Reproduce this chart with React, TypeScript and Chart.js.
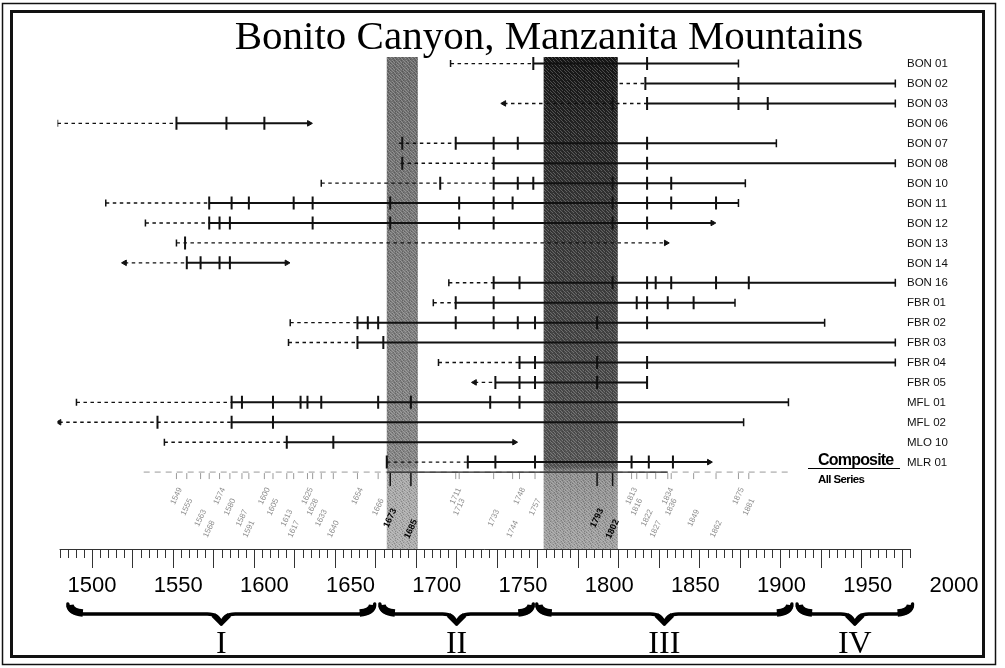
import React, { useEffect, useRef } from 'react';
import { Chart, registerables } from 'chart.js';

Chart.register(...registerables);

const TITLE = 'Bonito Canyon, Manzanita Mountains';

const SERIES = ['BON 01', 'BON 02', 'BON 03', 'BON 06', 'BON 07', 'BON 08', 'BON 10', 'BON 11', 'BON 12', 'BON 13', 'BON 14', 'BON 16', 'FBR 01', 'FBR 02', 'FBR 03', 'FBR 04', 'FBR 05', 'MFL 01', 'MFL 02', 'MLO 10', 'MLR 01'];

// first year of each series (start of the dashed, non-recording part)
const INNER_YEAR = [1708, 1806, 1739, 1480, 1678, 1679, 1633, 1508, 1531, 1549, 1519, 1707, 1698, 1615, 1614, 1701, 1722, 1491, 1481, 1542, 1671];
// 'pith' = short tick, 'arrow' = inner ring arrow, 'none' = no mark
const INNER_KIND = ['pith', 'none', 'arrow', 'pith', 'none', 'none', 'pith', 'pith', 'pith', 'pith', 'arrow', 'pith', 'pith', 'pith', 'pith', 'pith', 'arrow', 'pith', 'arrow', 'pith', 'pith'];
// first recorder year (solid line begins)
const RECORD_START = [1756, 1821, 1822, 1549, 1711, 1733, 1733, 1568, 1568, 1833, 1555, 1733, 1711, 1654, 1654, 1748, 1734, 1581, 1581, 1613, 1718];
// last year of each series
const OUTER_YEAR = [1875, 1966, 1966, 1626, 1897, 1966, 1879, 1875, 1860, 1833, 1613, 1966, 1873, 1925, 1966, 1966, 1822, 1904, 1878, 1745, 1858];
const OUTER_KIND = ['bark', 'bark', 'bark', 'arrow', 'bark', 'bark', 'bark', 'bark', 'arrow', 'arrow', 'arrow', 'bark', 'bark', 'bark', 'bark', 'bark', 'bark', 'bark', 'bark', 'arrow', 'arrow'];

// fire-scar years per series
const SCARS_BON01 = [1756, 1822];
const SCARS_BON02 = [1821, 1875];
const SCARS_BON03 = [1802, 1822, 1875, 1892];
const SCARS_BON06 = [1549, 1578, 1600];
const SCARS_BON07 = [1680, 1711, 1733, 1747, 1822];
const SCARS_BON08 = [1680, 1733, 1822];
const SCARS_BON10 = [1702, 1733, 1747, 1756, 1802, 1822, 1836];
const SCARS_BON11 = [1568, 1581, 1591, 1617, 1628, 1673, 1713, 1733, 1744, 1802, 1822, 1836, 1862];
const SCARS_BON12 = [1568, 1574, 1580, 1628, 1673, 1713, 1733, 1802, 1822];
const SCARS_BON13 = [1554];
const SCARS_BON14 = [1555, 1563, 1574, 1580];
const SCARS_BON16 = [1733, 1748, 1802, 1822, 1827, 1836, 1862, 1881];
const SCARS_FBR01 = [1711, 1733, 1816, 1822, 1834, 1849];
const SCARS_FBR02 = [1654, 1660, 1666, 1711, 1733, 1747, 1757, 1793, 1822];
const SCARS_FBR03 = [1654, 1669];
const SCARS_FBR04 = [1748, 1757, 1793, 1822];
const SCARS_FBR05 = [1734, 1748, 1757, 1793, 1822];
const SCARS_MFL01 = [1581, 1587, 1605, 1621, 1625, 1633, 1666, 1685, 1731, 1748];
const SCARS_MFL02 = [1538, 1581, 1605];
const SCARS_MLO10 = [1613, 1640];
const SCARS_MLR01 = [1671, 1718, 1734, 1757, 1813, 1823, 1837];
const SCARS = [SCARS_BON01, SCARS_BON02, SCARS_BON03, SCARS_BON06, SCARS_BON07, SCARS_BON08, SCARS_BON10, SCARS_BON11, SCARS_BON12, SCARS_BON13, SCARS_BON14, SCARS_BON16, SCARS_FBR01, SCARS_FBR02, SCARS_FBR03, SCARS_FBR04, SCARS_FBR05, SCARS_MFL01, SCARS_MFL02, SCARS_MLO10, SCARS_MLR01];

// composite (all series) fire years
const COMPOSITE_YEARS = [1549, 1555, 1563, 1568, 1574, 1580, 1587, 1591, 1600, 1605, 1613, 1617, 1625, 1628, 1633, 1640, 1654, 1666, 1673, 1685, 1711, 1713, 1733, 1744, 1748, 1757, 1793, 1802, 1813, 1816, 1822, 1827, 1834, 1836, 1849, 1862, 1875, 1881];
const COMPOSITE_BOLD = [1673, 1685, 1793, 1802];

const X_TICKS = [1500, 1550, 1600, 1650, 1700, 1750, 1800, 1850, 1900, 1950, 2000];

// shaded periods
const BAND_START = [1671, 1762];
const BAND_END = [1689, 1805];

// bracketed periods
const PERIOD_LABELS = ['I', 'II', 'III', 'IV'];
const PERIOD_START = [1486, 1667, 1758, 1909];
const PERIOD_END = [1664, 1756, 1906, 1976];

// ruler (scanned scale) in its own units
const RULER_FROM = 1480;
const RULER_TO = 2005;
const RULER_MINOR = 5;
const RULER_MAJOR = 25;

const COMPOSITE_ROW = 20.5;
const INK = '#111111';

function buildSegments(solid: boolean) {
  const pts: any[] = [];
  SERIES.forEach((_, i) => {
    const a = solid ? RECORD_START[i] : INNER_YEAR[i];
    const b = solid ? OUTER_YEAR[i] : RECORD_START[i];
    if (b > a) {
      pts.push({ x: a, y: i }, { x: b, y: i }, { x: b, y: null });
    }
  });
  return pts;
}

function drawBrace(ctx: CanvasRenderingContext2D, xa: number, xb: number, yTop: number) {
  const xm = (xa + xb) / 2;
  const yMid = yTop + 10;
  const yTip = yTop + 20;
  ctx.save();
  ctx.strokeStyle = '#000';
  ctx.fillStyle = '#000';
  ctx.lineCap = 'round';
  ctx.lineJoin = 'round';
  ctx.lineWidth = 3.4;
  ctx.beginPath();
  ctx.moveTo(xa, yTop);
  ctx.quadraticCurveTo(xa + 1, yMid, xa + 16, yMid);
  ctx.lineTo(xm - 14, yMid);
  ctx.quadraticCurveTo(xm - 2, yMid, xm, yTip);
  ctx.quadraticCurveTo(xm + 2, yMid, xm + 14, yMid);
  ctx.lineTo(xb - 16, yMid);
  ctx.quadraticCurveTo(xb - 1, yMid, xb, yTop);
  ctx.stroke();
  ctx.lineWidth = 7.5;
  ctx.lineCap = 'butt';
  ctx.beginPath();
  ctx.moveTo(xa + 2, yTop + 1);
  ctx.quadraticCurveTo(xa + 3, yMid - 2, xa + 15, yMid - 1);
  ctx.stroke();
  ctx.beginPath();
  ctx.moveTo(xb - 2, yTop + 1);
  ctx.quadraticCurveTo(xb - 3, yMid - 2, xb - 15, yMid - 1);
  ctx.stroke();
  ctx.lineWidth = 5;
  ctx.beginPath();
  ctx.moveTo(xm - 8, yMid + 1);
  ctx.lineTo(xm, yTip - 1);
  ctx.lineTo(xm + 8, yMid + 1);
  ctx.stroke();
  ctx.restore();
}

function speckle(ctx: CanvasRenderingContext2D) {
  const c = document.createElement('canvas');
  c.width = 7;
  c.height = 7;
  const g = c.getContext('2d')!;
  for (let i = 0; i < 7; i++) {
    for (let j = 0; j < 7; j++) {
      if ((i * 3 + j * 5) % 4 === 0) {
        g.fillStyle = 'rgba(255,255,255,0.22)';
        g.fillRect(i, j, 1, 1);
      } else if ((i + j * 2) % 5 === 0) {
        g.fillStyle = 'rgba(0,0,0,0.2)';
        g.fillRect(i, j, 1, 1);
      }
    }
  }
  return ctx.createPattern(c, 'repeat');
}

const decor = {
  id: 'decor',
  beforeDraw(chart: any) {
    const { ctx, width, height } = chart;
    ctx.save();
    ctx.fillStyle = '#fff';
    ctx.fillRect(0, 0, width, height);
    ctx.strokeStyle = INK;
    ctx.lineWidth = 1.5;
    ctx.strokeRect(2.5, 3.5, 993, 661);
    ctx.lineWidth = 3;
    ctx.strokeRect(11.5, 11.5, 972, 645);
    ctx.fillStyle = '#000';
    ctx.font = '41px "Liberation Serif"';
    ctx.textAlign = 'center';
    ctx.textBaseline = 'alphabetic';
    ctx.fillText(TITLE, 549, 49);
    ctx.restore();
  },
  beforeDatasetsDraw(chart: any) {
    const { ctx, chartArea: ca, scales } = chart;
    const x = scales.x;
    const y = scales.y;
    const compY = y.getPixelForValue(COMPOSITE_ROW);
    const f = (compY - ca.top) / (ca.bottom - ca.top);
    ctx.save();
    const pat = speckle(ctx);
    BAND_START.forEach((s, k) => {
      const x0 = x.getPixelForValue(s);
      const x1 = x.getPixelForValue(BAND_END[k]);
      const g = ctx.createLinearGradient(0, ca.top, 0, ca.bottom);
      if (k === 1) {
        g.addColorStop(0, '#161616');
        g.addColorStop(0.12, '#222');
        g.addColorStop(0.3, '#363636');
        g.addColorStop(0.55, '#444');
        g.addColorStop(f - 0.01, '#555');
        g.addColorStop(f, '#8e8e8e');
        g.addColorStop(1, '#a2a2a2');
      } else {
        g.addColorStop(0, '#6c6c6c');
        g.addColorStop(0.5, '#7c7c7c');
        g.addColorStop(f - 0.01, '#848484');
        g.addColorStop(f, '#a6a6a6');
        g.addColorStop(1, '#aeaeae');
      }
      ctx.fillStyle = g;
      ctx.fillRect(x0, ca.top, x1 - x0, ca.bottom - ca.top);
      if (pat) {
        ctx.fillStyle = pat;
        ctx.fillRect(x0, ca.top, x1 - x0, ca.bottom - ca.top);
      }
    });

    ctx.strokeStyle = '#9a9a9a';
    ctx.lineWidth = 1;
    ctx.setLineDash([6, 5]);
    ctx.beginPath();
    ctx.moveTo(x.getPixelForValue(1530), compY);
    ctx.lineTo(x.getPixelForValue(1905), compY);
    ctx.stroke();
    ctx.setLineDash([]);
    ctx.strokeStyle = '#222';
    ctx.lineWidth = 1.3;
    ctx.beginPath();
    ctx.moveTo(x.getPixelForValue(1671), compY);
    ctx.lineTo(x.getPixelForValue(1834), compY);
    ctx.stroke();

    COMPOSITE_YEARS.forEach((yr, i) => {
      const px = x.getPixelForValue(yr);
      const bold = COMPOSITE_BOLD.includes(yr);
      ctx.strokeStyle = bold ? '#111' : '#9a9a9a';
      ctx.lineWidth = bold ? 1.5 : 1;
      ctx.beginPath();
      ctx.moveTo(px, compY + 1);
      ctx.lineTo(px, compY + (bold ? 14 : 7));
      ctx.stroke();
      const ly = compY + 24 + (i % 4) * 11;
      ctx.save();
      ctx.translate(px, ly);
      ctx.rotate(-65 * Math.PI / 180);
      ctx.font = bold ? 'bold 9px "Liberation Sans"' : '8px "Liberation Sans"';
      ctx.fillStyle = bold ? '#000' : '#8c8c8c';
      ctx.textAlign = 'center';
      ctx.textBaseline = 'middle';
      ctx.fillText(String(yr), 0, 0);
      ctx.restore();
    });

    const rToX = (r: number) => x.getPixelForValue(1500 + (r - 1500) * (1.62 / 1.724));
    const base = ca.bottom;
    ctx.strokeStyle = '#333';
    ctx.lineWidth = 1;
    ctx.beginPath();
    ctx.moveTo(rToX(RULER_FROM), base + 0.5);
    ctx.lineTo(rToX(RULER_TO), base + 0.5);
    ctx.stroke();
    for (let r = RULER_FROM; r <= RULER_TO; r += RULER_MINOR) {
      const px = Math.round(rToX(r)) + 0.5;
      const len = (r - 1500) % RULER_MAJOR === 0 ? 19 : 9;
      ctx.beginPath();
      ctx.moveTo(px, base);
      ctx.lineTo(px, base + len);
      ctx.stroke();
    }

    ctx.font = '11.5px "Liberation Sans"';
    ctx.fillStyle = INK;
    ctx.textAlign = 'left';
    ctx.textBaseline = 'middle';
    SERIES.forEach((name, i) => {
      ctx.fillText(name, 907, y.getPixelForValue(i) + 0.5);
    });
    ctx.restore();
  },
  afterDraw(chart: any) {
    const { ctx, scales } = chart;
    const x = scales.x;
    ctx.save();
    PERIOD_LABELS.forEach((lab, k) => {
      const xa = x.getPixelForValue(PERIOD_START[k]);
      const xb = x.getPixelForValue(PERIOD_END[k]);
      drawBrace(ctx, xa, xb, 604);
      ctx.fillStyle = '#000';
      ctx.font = '32px "Liberation Serif"';
      ctx.textAlign = 'center';
      ctx.textBaseline = 'alphabetic';
      ctx.fillText(lab, (xa + xb) / 2, 653);
    });
    ctx.fillStyle = '#000';
    ctx.textAlign = 'left';
    ctx.textBaseline = 'alphabetic';
    (ctx as any).letterSpacing = '-0.8px';
    ctx.font = 'bold 16px "Liberation Sans"';
    ctx.fillText('Composite', 818, 465);
    ctx.strokeStyle = '#000';
    ctx.lineWidth = 1;
    ctx.beginPath();
    ctx.moveTo(808, 468.5);
    ctx.lineTo(900, 468.5);
    ctx.stroke();
    (ctx as any).letterSpacing = '-0.6px';
    ctx.font = 'bold 11.5px "Liberation Sans"';
    ctx.fillText('All Series', 818, 483);
    ctx.restore();
  },
};

function flat(list: number[][]) {
  const out: any[] = [];
  list.forEach((yrs, i) => {
    yrs.forEach((v) => out.push({ x: v, y: i }));
  });
  return out;
}

export default function App() {
  const ref = useRef<HTMLCanvasElement>(null);
  useEffect(() => {
    const canvas = ref.current;
    if (!canvas) return;

    const scarPts = flat(SCARS);
    const pithPts = INNER_YEAR.map((v, i) => ({ x: v, y: i })).filter((_, i) => INNER_KIND[i] === 'pith');
    const leftArrowPts = INNER_YEAR.map((v, i) => ({ x: v, y: i })).filter((_, i) => INNER_KIND[i] === 'arrow');
    const barkPts = OUTER_YEAR.map((v, i) => ({ x: v, y: i })).filter((_, i) => OUTER_KIND[i] === 'bark');
    const rightArrowPts = OUTER_YEAR.map((v, i) => ({ x: v, y: i })).filter((_, i) => OUTER_KIND[i] === 'arrow');

    const pointBase = {
      type: 'scatter' as const,
      showLine: false,
      pointBorderColor: INK,
      pointBackgroundColor: INK,
    };

    const chart = new Chart(canvas, {
      type: 'line',
      data: {
        datasets: [
          { ...pointBase, label: 'scars', data: scarPts, pointStyle: 'line', pointRotation: 90, pointRadius: 6.5, pointBorderWidth: 2 },
          { ...pointBase, label: 'inner', data: pithPts, pointStyle: 'line', pointRotation: 90, pointRadius: 3.5, pointBorderWidth: 1.5 },
          { ...pointBase, label: 'bark', data: barkPts, pointStyle: 'line', pointRotation: 90, pointRadius: 4, pointBorderWidth: 1.5 },
          { ...pointBase, label: 'inner arrow', data: leftArrowPts, pointStyle: 'triangle', pointRotation: -90, pointRadius: 3.2, pointBorderWidth: 1 },
          { ...pointBase, label: 'outer arrow', data: rightArrowPts, pointStyle: 'triangle', pointRotation: 90, pointRadius: 3.2, pointBorderWidth: 1 },
          {
            type: 'line', label: 'recorder', data: buildSegments(true), borderColor: INK, borderWidth: 2,
            pointRadius: 0, spanGaps: false, tension: 0,
          },
          {
            type: 'line', label: 'non-recorder', data: buildSegments(false), borderColor: INK, borderWidth: 1.4,
            borderDash: [3.5, 3.5], pointRadius: 0, spanGaps: false, tension: 0,
          },
        ] as any,
      },
      options: {
        animation: false,
        responsive: false,
        maintainAspectRatio: false,
        events: [],
        layout: { padding: { left: 57.5, right: 25.2, top: 57, bottom: 49 } },
        plugins: { legend: { display: false }, tooltip: { enabled: false }, title: { display: false } },
        scales: {
          x: {
            type: 'linear',
            min: 1480,
            max: 2015,
            grid: { display: false, drawTicks: false },
            border: { display: false },
            ticks: {
              color: '#000',
              padding: 24,
              font: { family: '"Liberation Sans"', size: 22 },
              maxRotation: 0,
              autoSkip: false,
              callback: (v: any) => String(v),
            },
            afterBuildTicks: (s: any) => {
              s.ticks = X_TICKS.map((v) => ({ value: v }));
            },
            afterFit: (s: any) => {
              s.height = 70;
            },
          },
          y: {
            type: 'linear',
            reverse: true,
            min: -0.33,
            max: 24.36,
            display: false,
          },
        },
      },
      plugins: [decor],
    } as any);
    return () => chart.destroy();
  }, []);

  return (
    <div style={{ position: 'absolute', left: 0, top: 0, width: 1005, height: 668, background: '#fff' }}>
      <canvas ref={ref} width={1005} height={668} style={{ display: 'block', width: 1005, height: 668 }} />
    </div>
  );
}
